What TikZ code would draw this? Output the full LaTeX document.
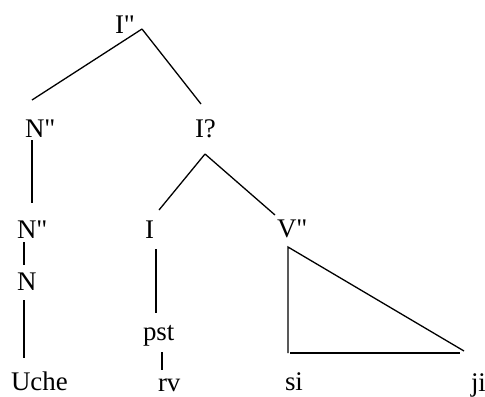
\documentclass[tikz,border=0pt]{standalone}
\usepackage{fontspec}
\setmainfont{Liberation Serif}
\newfontfamily\tnr{Liberation Serif}[Ligatures=TeXOff]
\begin{document}
\begin{tikzpicture}[x=1bp,y=-1bp,
  lbl/.style={anchor=base west,inner sep=0pt,outer sep=0pt,font=\tnr\fontsize{27}{30}\selectfont},
  edge/.style={line width=1.3bp,line cap=butt}]
\useasboundingbox (0,0) rectangle (485,396);
% labels
\node[lbl] (Ipp) at (115,33) {I"};
\node[lbl] (Npp) at (25,137) {N"};
\node[lbl] (Iq) at (195,137) {I?};
\node[lbl] (Npp2) at (17,238) {N"};
\node[lbl] (I) at (145,238) {I};
\node[lbl] (Vpp) at (277,237) {V"};
\node[lbl] (N) at (17,290) {N};
\node[lbl] (pst) at (143,340) {pst};
\node[lbl] (Uche) at (11,390) {Uche};
\node[lbl] (rv) at (158,391) {rv};
\node[lbl] (si) at (285,390) {si};
\node[lbl] (ji) at (471,391) {ji};
% connector end points
\coordinate (aI) at (142,29);
\coordinate (aNl) at (32,100);
\coordinate (aIr) at (201,104);
\coordinate (bN1) at (32,140);
\coordinate (bN2) at (32,203);
\coordinate (cN1) at (24,242);
\coordinate (cN2) at (24,265);
\coordinate (dN1) at (24,300);
\coordinate (dN2) at (24,358);
\coordinate (eI) at (205,154);
\coordinate (eL) at (159,210);
\coordinate (eR) at (275,215);
\coordinate (fI1) at (156,249);
\coordinate (fI2) at (156,313);
\coordinate (gP1) at (162,352);
\coordinate (gP2) at (162,370);
\coordinate (tTop) at (288,247);
\coordinate (tBL) at (288,353);
\coordinate (tR) at (464,351);
\coordinate (tB1) at (290,353);
\coordinate (tB2) at (460,353);
% connectors
\draw[edge] (aI) -- (aNl);
\draw[edge] (aI) -- (aIr);
\draw[edge] (bN1) -- (bN2);
\draw[edge] (cN1) -- (cN2);
\draw[edge] (dN1) -- (dN2);
\draw[edge] (eI) -- (eL);
\draw[edge] (eI) -- (eR);
\draw[edge] (fI1) -- (fI2);
\draw[edge] (gP1) -- (gP2);
\draw[edge] (tBL) -- (tTop) -- (tR);
\draw[edge] (tB1) -- (tB2);
\end{tikzpicture}
\end{document}
